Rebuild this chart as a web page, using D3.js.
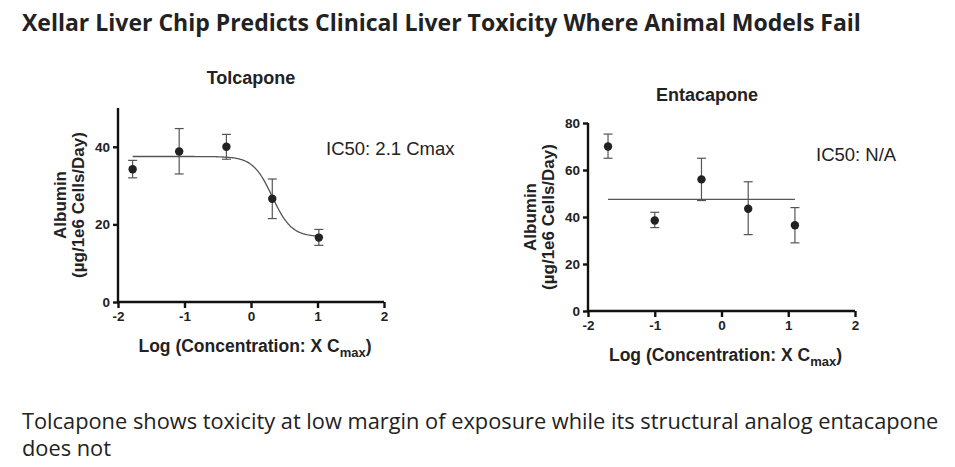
<!DOCTYPE html>
<html><head><meta charset="utf-8">
<script src="https://cdn.jsdelivr.net/npm/d3@7"></script>
<style>
body{margin:0;background:#fff;font-family:"Liberation Sans",Arial,sans-serif}
text{fill:#222}
</style></head><body>
<svg id="c" width="955" height="467"></svg>
<script>
// Tolcapone
var tolX = [-1.78, -1.08, -0.37, 0.32, 1.02];
var tolY = [34.2, 38.8, 40.0, 26.6, 16.6];
var tolLo = [32.0, 33.0, 36.8, 21.5, 14.6];
var tolHi = [36.5, 44.7, 43.2, 31.7, 18.7];
var tolFit = [37.5, 16.8, 0.32, 3.0]; // top, bottom, logIC50, hill

// Entacapone
var entX = [-1.7, -1.0, -0.3, 0.4, 1.1];
var entY = [70, 38.5, 56, 43.5, 36.5];
var entLo = [65, 35.5, 47, 32.5, 29];
var entHi = [75.3, 42, 65, 55, 44];
var entFit = [47.5];

var xTicks = [-2, -1, 0, 1, 2];

var svg = d3.select("#c");

svg.append("text").attr("x", 22).attr("y", 31)
  .style("font-family", "'Open Sans',sans-serif").style("font-weight", "bold").style("font-size", "23px")
  .text("Xellar Liver Chip Predicts Clinical Liver Toxicity Where Animal Models Fail");
svg.append("text").attr("x", 22).attr("y", 429)
  .style("font-family", "'Open Sans',sans-serif").style("font-size", "21.8px")
  .text("Tolcapone shows toxicity at low margin of exposure while its structural analog entacapone");
svg.append("text").attr("x", 22).attr("y", 456)
  .style("font-family", "'Open Sans',sans-serif").style("font-size", "21.8px")
  .text("does not");

function panel(o) {
  var x = d3.scaleLinear().domain([-2, 2]).range([o.x0, o.x1]);
  var y = d3.scaleLinear().domain([0, o.ymax]).range([o.y0, o.y1]);
  var g = svg.append("g");
  var ax = g.append("g").attr("transform", "translate(0," + o.y0 + ")")
    .call(d3.axisBottom(x).tickValues(xTicks).tickSize(6).tickFormat(function(d) { return String(d); }));
  var ay = g.append("g").attr("transform", "translate(" + o.x0 + ",0)")
    .call(d3.axisLeft(y).tickValues(o.yTicks).tickSize(5));
  [ax, ay].forEach(function(a) {
    a.selectAll("path,line").attr("stroke", "#111").attr("stroke-width", 2.4);
    a.select(".domain").attr("d", a === ax ? "M" + o.x0 + ",0H" + o.x1 : "M0," + o.y0 + "V" + o.y1);
    a.selectAll("text").style("font-size", "13.5px").style("font-weight", "bold")
      .style("font-family", "'Liberation Sans',Arial,sans-serif").attr("fill", "#111");
  });
  g.append("text").attr("x", (o.x0 + o.x1) / 2 + 4).attr("y", o.y0 + 50).attr("text-anchor", "middle")
    .style("font-size", "17.5px").style("font-weight", "bold")
    .html("Log (Concentration: X C<tspan dy='5' font-size='13px'>max</tspan><tspan dy='-5'>)</tspan>");
  var cy = (o.y0 + o.y1) / 2;
  g.append("text").attr("transform", "translate(" + (o.x0 - 52) + "," + cy + ") rotate(-90)")
    .attr("text-anchor", "middle").style("font-size", "17px").style("font-weight", "bold").text("Albumin");
  g.append("text").attr("transform", "translate(" + (o.x0 - 34) + "," + cy + ") rotate(-90)")
    .attr("text-anchor", "middle").style("font-size", "17px").style("font-weight", "bold").text("(µg/1e6 Cells/Day)");
  g.append("text").attr("x", o.titleX).attr("y", o.titleY).attr("text-anchor", "middle")
    .style("font-size", "18px").style("font-weight", "bold").text(o.title);
  g.append("text").attr("x", o.icx).attr("y", o.icy).style("font-size", "18.5px").text(o.ic);

  // fit line
  g.append("path").attr("d", d3.line().x(function(d) { return x(d[0]); }).y(function(d) { return y(d[1]); })(o.fit))
    .attr("fill", "none").attr("stroke", "#555").attr("stroke-width", 1.3);

  o.xs.forEach(function(v, i) {
    var px = x(v);
    g.append("line").attr("x1", px).attr("x2", px).attr("y1", y(o.lo[i])).attr("y2", y(o.hi[i]))
      .attr("stroke", "#555").attr("stroke-width", 1.2);
    [o.lo[i], o.hi[i]].forEach(function(e) {
      g.append("line").attr("x1", px - 4.5).attr("x2", px + 4.5).attr("y1", y(e)).attr("y2", y(e))
        .attr("stroke", "#555").attr("stroke-width", 1.2);
    });
    g.append("circle").attr("cx", px).attr("cy", y(o.ys[i])).attr("r", 4.2).attr("fill", "#222");
  });
}

var tolCurve = d3.range(-1.78, 1.021, 0.02).map(function(t) {
  return [t, tolFit[1] + (tolFit[0] - tolFit[1]) / (1 + Math.pow(10, (t - tolFit[2]) * tolFit[3]))];
});

panel({x0: 118, x1: 384, y0: 302, y1: 108, ymax: 50, yTicks: [0, 20, 40],
  xs: tolX, ys: tolY, lo: tolLo, hi: tolHi, fit: tolCurve,
  title: "Tolcapone", titleX: 251, titleY: 84, ic: "IC50: 2.1 Cmax", icx: 326, icy: 155});

panel({x0: 588, x1: 855, y0: 311, y1: 123, ymax: 80, yTicks: [0, 20, 40, 60, 80],
  xs: entX, ys: entY, lo: entLo, hi: entHi, fit: [[entX[0], entFit[0]], [entX[4], entFit[0]]],
  title: "Entacapone", titleX: 707, titleY: 101, ic: "IC50: N/A", icx: 816, icy: 161});
</script>
</body></html>
